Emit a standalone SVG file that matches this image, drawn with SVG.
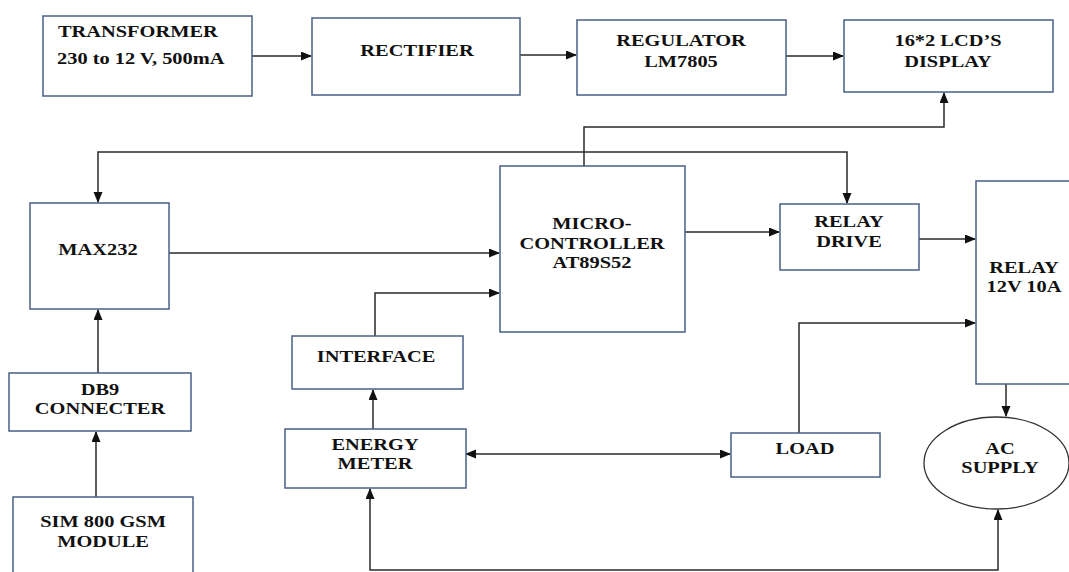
<svg xmlns="http://www.w3.org/2000/svg" width="1069" height="572" viewBox="0 0 1069 572">
<style>
.box{fill:#fff;stroke:#4a5f88;stroke-width:1.5}
.t{font-family:"Liberation Serif","Times New Roman",serif;font-weight:bold;font-size:17px;fill:#111;text-anchor:middle}
.l{text-anchor:start}
.c{fill:none;stroke:#2a2a2a;stroke-width:1.5}
</style>
<defs>
<marker id="ah" markerUnits="userSpaceOnUse" markerWidth="12" markerHeight="10" refX="10" refY="4.5" orient="auto-start-reverse">
<path d="M0,0 L11,4.5 L0,9 z" fill="#111"/>
</marker>
</defs>
<rect width="1069" height="572" fill="#fff"/>
<g id="connectors">
<path class="c" d="M252 56 H311" marker-end="url(#ah)"/>
<path class="c" d="M520 55 H576" marker-end="url(#ah)"/>
<path class="c" d="M786 56 H843" marker-end="url(#ah)"/>
<path class="c" d="M584 166 V127 H944 V93" marker-end="url(#ah)"/>
<path class="c" d="M98 202 V152 H847 V203" marker-start="url(#ah)" marker-end="url(#ah)"/>
<path class="c" d="M169 253 H499" marker-end="url(#ah)"/>
<path class="c" d="M375 336 V293 H499" marker-end="url(#ah)"/>
<path class="c" d="M685 232 H779" marker-end="url(#ah)"/>
<path class="c" d="M919 239 H975" marker-end="url(#ah)"/>
<path class="c" d="M799 433 V323 H975" marker-end="url(#ah)"/>
<path class="c" d="M1006 384 V416" marker-end="url(#ah)"/>
<path class="c" d="M98 373 V310" marker-end="url(#ah)"/>
<path class="c" d="M96 497 V432" marker-end="url(#ah)"/>
<path class="c" d="M373 429 V390" marker-end="url(#ah)"/>
<path class="c" d="M466 454 H730" marker-start="url(#ah)" marker-end="url(#ah)"/>
<path class="c" d="M998 510 V570 H370 V489" marker-start="url(#ah)" marker-end="url(#ah)"/>
</g>
<g id="transformer">
<rect class="box" x="43" y="16" width="209" height="80"/>
<text class="t l" transform="translate(58 37) scale(1.2 1)">TRANSFORMER</text>
<text class="t l" transform="translate(57 64) scale(1.2 1)">230 to 12 V, 500mA</text>
</g>
<g id="rectifier">
<rect class="box" x="312" y="18" width="208" height="77"/>
<text class="t" transform="translate(417 56) scale(1.2 1)">RECTIFIER</text>
</g>
<g id="regulator">
<rect class="box" x="577" y="20" width="209" height="75"/>
<text class="t" transform="translate(681 46) scale(1.2 1)">REGULATOR</text>
<text class="t" transform="translate(681 67) scale(1.2 1)">LM7805</text>
</g>
<g id="lcd">
<rect class="box" x="844" y="20" width="209" height="72"/>
<text class="t" transform="translate(948 46) scale(1.2 1)">16*2 LCD’S</text>
<text class="t" transform="translate(948 67) scale(1.2 1)">DISPLAY</text>
</g>
<g id="max232">
<rect class="box" x="30" y="203" width="139" height="106"/>
<text class="t" transform="translate(98 255) scale(1.2 1)">MAX232</text>
</g>
<g id="microcontroller">
<rect class="box" x="500" y="166" width="185" height="166"/>
<text class="t" transform="translate(592 229) scale(1.2 1)">MICRO-</text>
<text class="t" transform="translate(592 249) scale(1.2 1)">CONTROLLER</text>
<text class="t" transform="translate(592 268) scale(1.2 1)">AT89S52</text>
</g>
<g id="relay-drive">
<rect class="box" x="780" y="204" width="139" height="66"/>
<text class="t" transform="translate(849 227) scale(1.2 1)">RELAY</text>
<text class="t" transform="translate(849 247) scale(1.2 1)">DRIVE</text>
</g>
<g id="relay">
<rect class="box" x="976" y="181" width="130" height="203"/>
<text class="t" transform="translate(1024 273) scale(1.2 1)">RELAY</text>
<text class="t" transform="translate(1024 292) scale(1.2 1)">12V 10A</text>
</g>
<g id="interface">
<rect class="box" x="292" y="336" width="171" height="53"/>
<text class="t" transform="translate(376 362) scale(1.2 1)">INTERFACE</text>
</g>
<g id="db9">
<rect class="box" x="9" y="373" width="182" height="58"/>
<text class="t" transform="translate(100 395) scale(1.2 1)">DB9</text>
<text class="t" transform="translate(100 414) scale(1.2 1)">CONNECTER</text>
</g>
<g id="sim800">
<rect class="box" x="13" y="497" width="180" height="90"/>
<text class="t" transform="translate(103 527) scale(1.2 1)">SIM 800 GSM</text>
<text class="t" transform="translate(103 547) scale(1.2 1)">MODULE</text>
</g>
<g id="energy-meter">
<rect class="box" x="285" y="429" width="181" height="59"/>
<text class="t" transform="translate(375 450) scale(1.2 1)">ENERGY</text>
<text class="t" transform="translate(375 469) scale(1.2 1)">METER</text>
</g>
<g id="load">
<rect class="box" x="731" y="433" width="149" height="44"/>
<text class="t" transform="translate(805 454) scale(1.2 1)">LOAD</text>
</g>
<g id="ac-supply">
<ellipse cx="996.5" cy="463" rx="72.5" ry="46" fill="#fff" stroke="#333" stroke-width="1.3"/>
<text class="t" transform="translate(1000 454) scale(1.2 1)">AC</text>
<text class="t" transform="translate(1000 473) scale(1.2 1)">SUPPLY</text>
</g>
</svg>
